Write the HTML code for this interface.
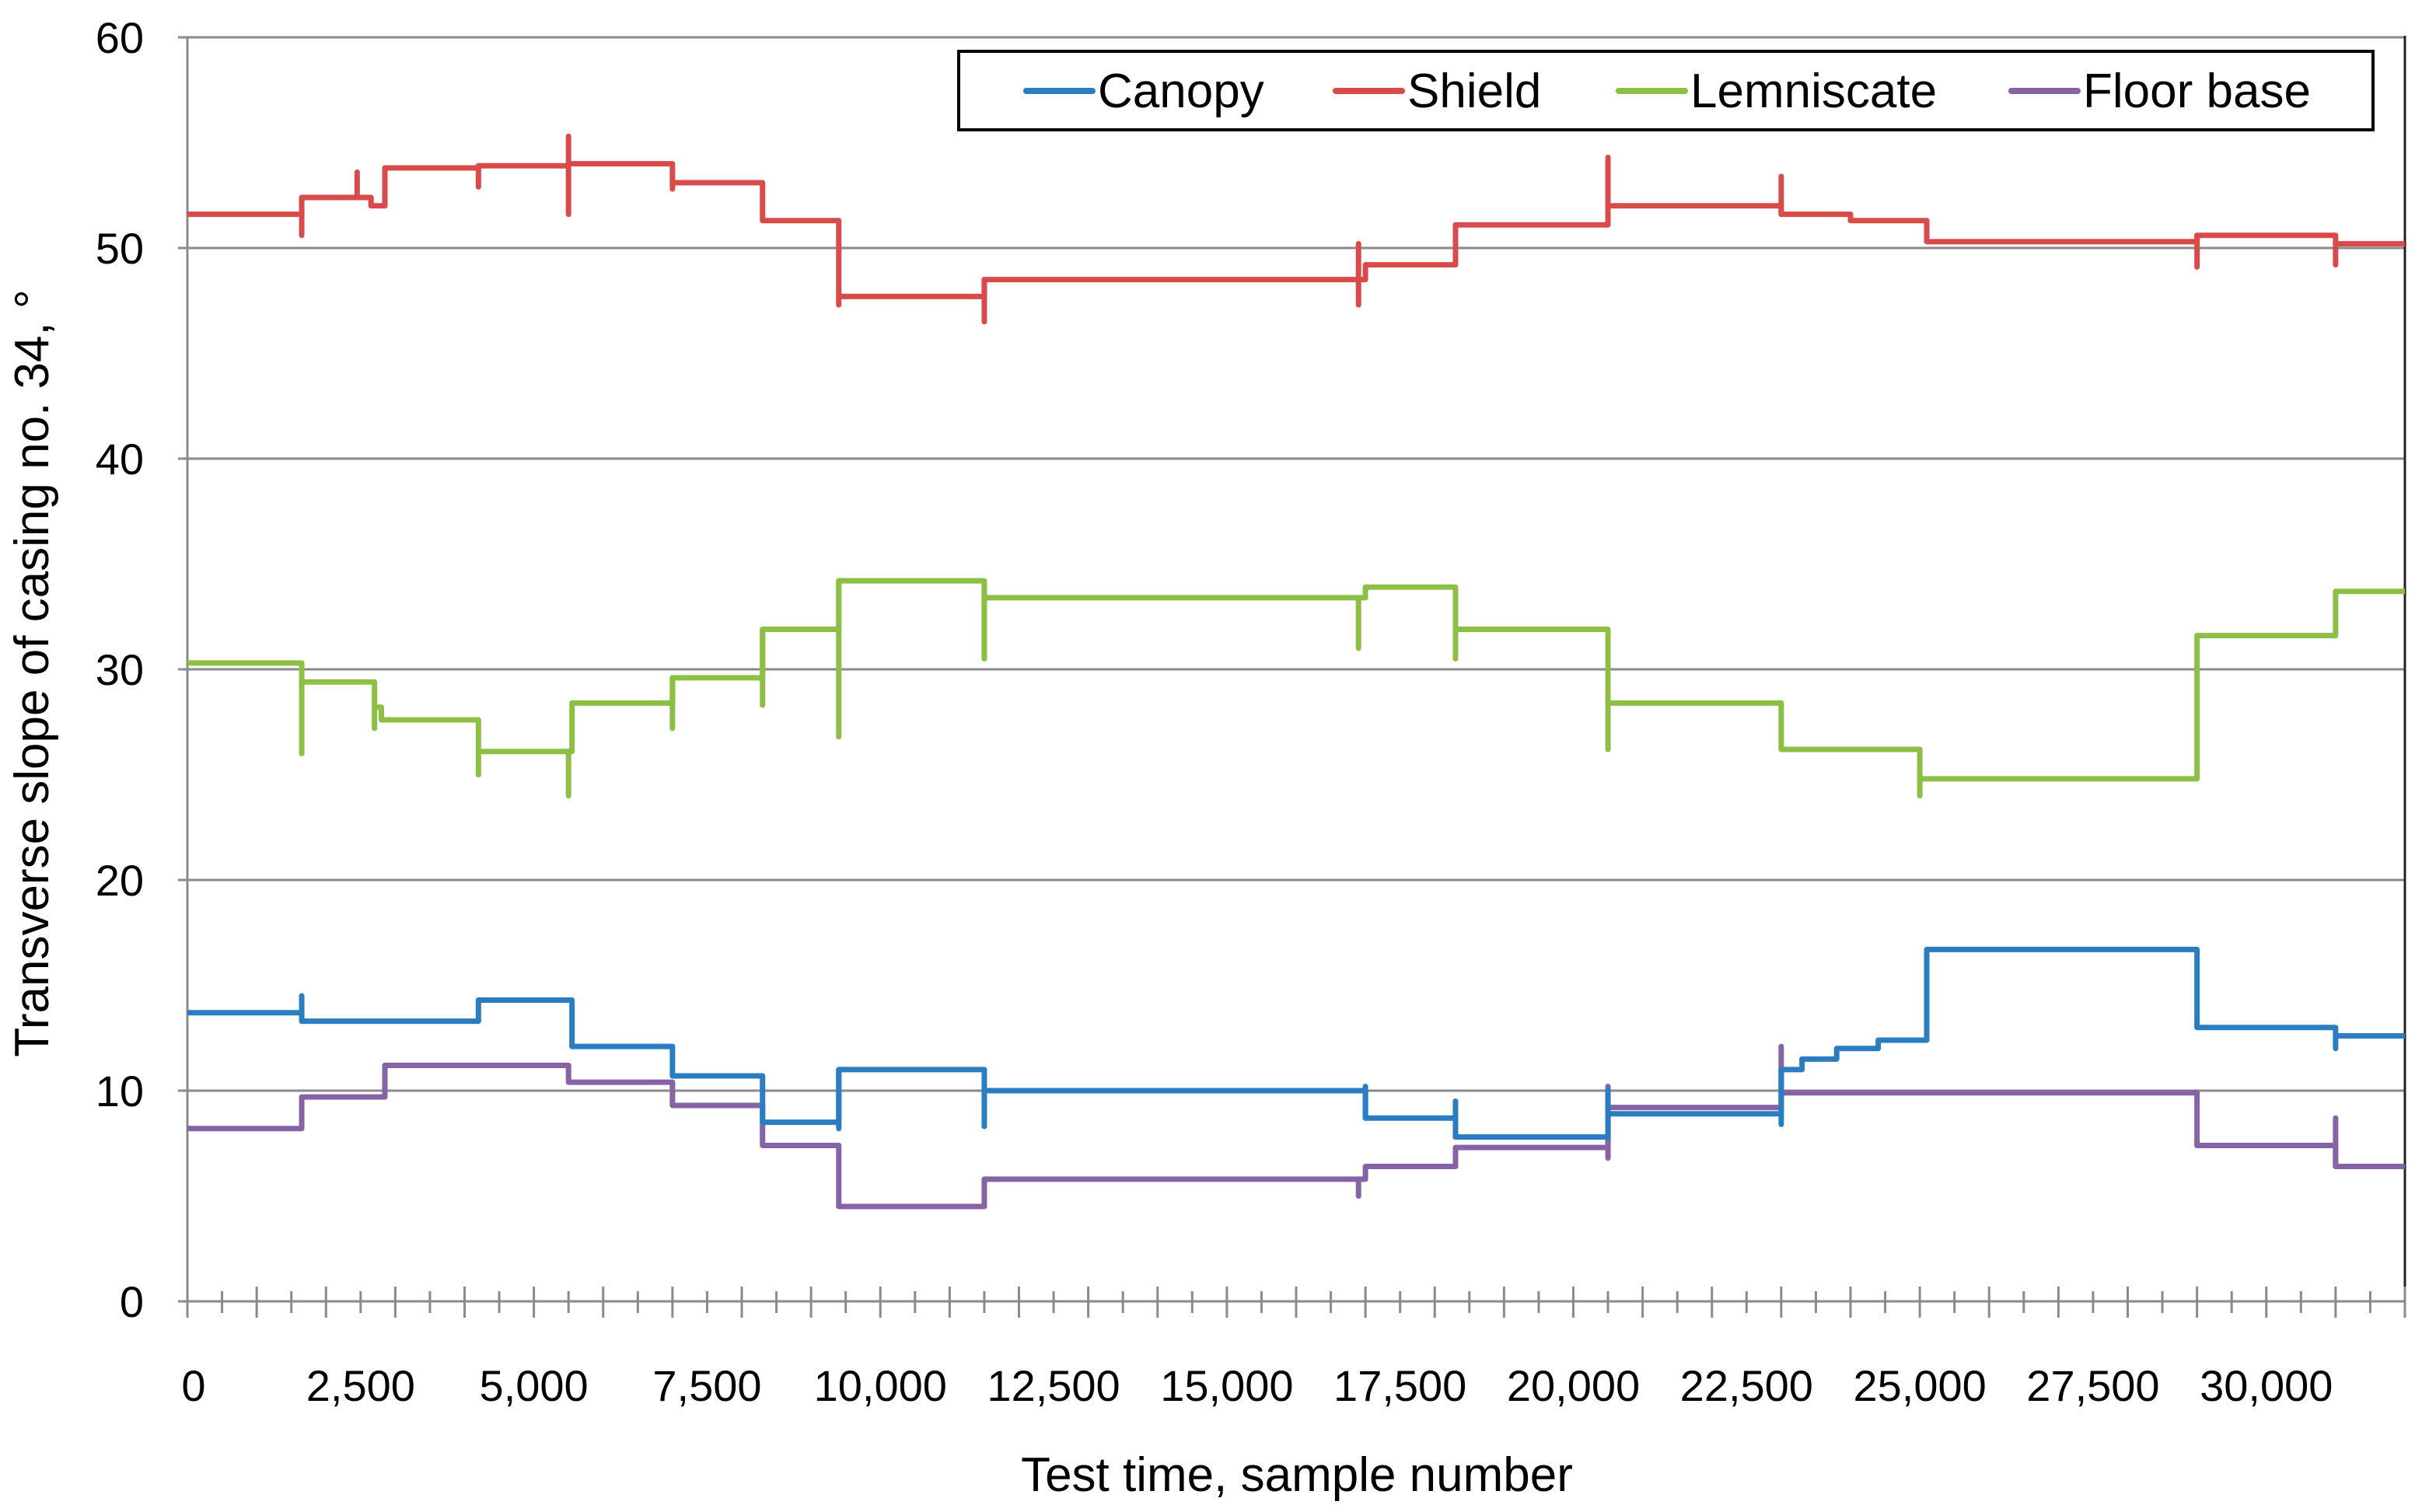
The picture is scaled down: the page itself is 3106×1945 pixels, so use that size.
<!DOCTYPE html>
<html><head><meta charset="utf-8"><style>
body{margin:0;background:#fff}
svg{display:block;font-family:"Liberation Sans",sans-serif}
</style></head><body>
<svg id="chart" width="3106" height="1945" viewBox="0 0 3106 1945" xmlns="http://www.w3.org/2000/svg">
<g id="grid"></g>
<g id="axes"></g>
<g id="series"></g>
<text x="0" y="0" transform="translate(62,866) rotate(-90)" text-anchor="middle" font-size="62">Transverse slope of casing no. 34, °</text>
<text x="1668" y="1918" text-anchor="middle" font-size="62">Test time, sample number</text>
<g>
<rect x="1233" y="66" width="1819" height="101" fill="#fff" stroke="#000" stroke-width="4"/>
<g><line x1="1320" y1="117" x2="1405" y2="117" stroke="#2a7dc0" stroke-width="8" stroke-linecap="round"/><text x="1412" y="138" font-size="62">Canopy</text></g>
<g><line x1="1718" y1="117" x2="1803" y2="117" stroke="#d94b4a" stroke-width="8" stroke-linecap="round"/><text x="1810" y="138" font-size="62">Shield</text></g>
<g><line x1="2082" y1="117" x2="2167" y2="117" stroke="#8dbf45" stroke-width="8" stroke-linecap="round"/><text x="2174" y="138" font-size="62">Lemniscate</text></g>
<g><line x1="2587" y1="117" x2="2672" y2="117" stroke="#8563a5" stroke-width="8" stroke-linecap="round"/><text x="2679" y="138" font-size="62">Floor base</text></g>
</g>
</svg>
<script>
const yTicks=[0,10,20,30,40,50,60];
const xTickLabels=[0,2500,5000,7500,10000,12500,15000,17500,20000,22500,25000,27500,30000];
const seriesNames=["Canopy","Shield","Lemniscate","Floor base"];
const canopyX=[0,1650,4200,5550,7000,8300,9400,11500,17000,18300,20500,23000,23300,23800,24400,25100,29000,31000];
const canopyY=[13.7,13.3,14.3,12.1,10.7,8.5,11.0,10.0,8.7,7.8,8.9,11.0,11.5,12.0,12.4,16.7,13.0,12.6];
const canopySpikeX=[1650,9400,11500,17000,18300,20500,23000,31000];
const canopySpikeY=[14.5,8.2,8.3,10.2,9.5,10.0,8.4,12.0];
const shieldX=[0,1650,2650,2850,4200,5500,7000,8300,9400,11500,17000,18300,20500,23000,24000,25100,29000,31000];
const shieldY=[51.6,52.4,52.0,53.8,53.9,54.0,53.1,51.3,47.7,48.5,49.2,51.1,52.0,51.6,51.3,50.3,50.6,50.2];
const shieldSpikeX=[1650,2450,4200,5500,5500,7000,9400,11500,16900,16900,20500,23000,29000,31000];
const shieldSpikeY=[50.6,53.6,52.9,55.3,51.6,52.8,47.3,46.5,50.2,47.3,54.3,53.4,49.1,49.2];
const lemX=[0,1650,2700,2800,4200,5550,7000,8300,9400,11500,17000,18300,20500,23000,25000,29000,31000];
const lemY=[30.3,29.4,28.2,27.6,26.1,28.4,29.6,31.9,34.2,33.4,33.9,31.9,28.4,26.2,24.8,31.6,33.7];
const lemSpikeX=[1650,2700,4200,5500,7000,8300,9400,11500,16900,18300,20500,25000];
const lemSpikeY=[26.0,27.2,25.0,24.0,27.2,28.3,26.8,30.5,31.0,30.5,26.2,24.0];
const floorX=[0,1650,2850,5500,7000,8300,9400,11500,17000,18300,20500,23000,29000,31000];
const floorY=[8.2,9.7,11.2,10.4,9.3,7.4,4.5,5.8,6.4,7.3,9.2,9.9,7.4,6.4];
const floorSpikeX=[16900,20500,20500,23000,31000];
const floorSpikeY=[5.0,10.2,6.8,12.1,8.7];

const X0=241,X1=3093,Y0=1674,Y1=48,XMAX=32000,YMAX=60;
const sx=v=>X0+(X1-X0)*v/XMAX;
const sy=v=>Y0-(Y0-Y1)*v/YMAX;
const NS="http://www.w3.org/2000/svg";
function mk(tag,attrs,parent){const e=document.createElementNS(NS,tag);for(const k in attrs)e.setAttribute(k,attrs[k]);parent.appendChild(e);return e;}
const grid=document.getElementById('grid'),axes=document.getElementById('axes'),ser=document.getElementById('series');
yTicks.forEach(t=>{
  const l=mk('line',{x1:X0-12,x2:X1,y1:sy(t),y2:sy(t),stroke:'#8a8a8a','stroke-width':3},grid);
  
  
  const tx=mk('text',{x:185,y:sy(t)+20,'text-anchor':'end','font-size':56},axes);
  tx.textContent=t;
  
  
});
const ya=mk('line',{x1:X0,x2:X0,y1:Y1,y2:Y0,stroke:'#8a8a8a','stroke-width':3},axes);


const rb=mk('line',{x1:X1,x2:X1,y1:Y1-2,y2:Y0,stroke:'#222','stroke-width':3},axes);


for(let v=0;v<=XMAX;v+=500){
  const long=(v%1000===0);
  const t=mk('line',{x1:sx(v),x2:sx(v),y1:long?Y0-19:Y0-13,y2:long?Y0+21:Y0+15,stroke:'#8a8a8a','stroke-width':3},axes);
  
  
}
xTickLabels.forEach(v=>{
  const tx=mk('text',{x:sx(v)+(v===0?8:0),y:1802,'text-anchor':'middle','font-size':56},axes);
  tx.textContent=v.toLocaleString('en-US');
  
  
});
function drawSeries(xs,ys,spx,spy,color,name){
  let d='M'+sx(xs[0])+','+sy(ys[0]);
  for(let i=1;i<xs.length;i++){d+=' L'+sx(xs[i])+','+sy(ys[i-1])+' L'+sx(xs[i])+','+sy(ys[i]);}
  d+=' L'+sx(XMAX)+','+sy(ys[ys.length-1]);
  const p=mk('path',{d:d,fill:'none',stroke:color,'stroke-width':7,'stroke-linejoin':'round'},ser);
  
  
  for(let i=0;i<spx.length;i++){
    let j=0;for(let k=0;k<xs.length;k++)if(xs[k]<=spx[i])j=k;
    const base=ys[j];
    const s=mk('line',{x1:sx(spx[i]),x2:sx(spx[i]),y1:sy(base),y2:sy(spy[i]),stroke:color,'stroke-width':7,'stroke-linecap':'round'},ser);
    
    
  }
}
drawSeries(shieldX,shieldY,shieldSpikeX,shieldSpikeY,'#d94b4a','shield');
drawSeries(lemX,lemY,lemSpikeX,lemSpikeY,'#8dbf45','lemniscate');
drawSeries(floorX,floorY,floorSpikeX,floorSpikeY,'#8563a5','floor-base');
drawSeries(canopyX,canopyY,canopySpikeX,canopySpikeY,'#2a7dc0','canopy');
</script>
</body></html>
